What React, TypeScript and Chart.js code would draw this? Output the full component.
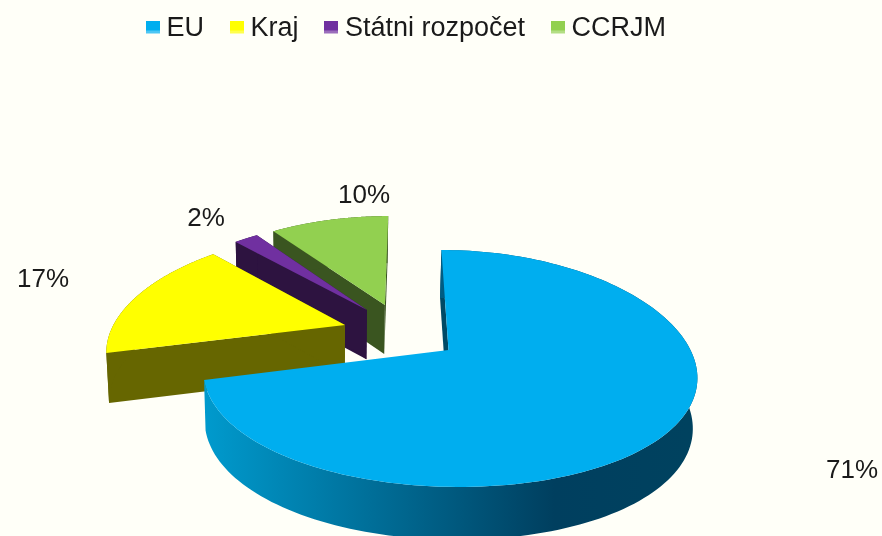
import React, { useEffect, useRef } from "react";
import { Chart, registerables } from "chart.js";

Chart.register(...registerables);

const categories = ["EU", "Kraj", "Státni rozpočet", "CCRJM"];
const shares = [71, 17, 2, 10];

const topColors = ["#00AEEF", "#FFFF00", "#7030A0", "#92D050"];
const sideColors = ["#005A7C", "#666600", "#2D1340", "#3A5520"];
const explode = [
  [0, 0],
  [-0.439, 0.223],
  [-0.349, 0.366],
  [-0.27, 0.414],
];
const labelAnchors = [
  [852, 471],
  [43, 280],
  [206, 219],
  [364, 196],
];
const PAPER = "#FFFFF8";
const INK = "#1A1A1A";
const PERSPECTIVE_X = 0.2;
const PERSPECTIVE_Y = 0.156;
const SKEW = -0.035;
const TOP_PLANE = { cx: 448.5, cy: 350, R: 242, Ry: 115.6 };
const BOTTOM_PLANE = { cx: 447, cy: 400, R: 239, Ry: 118 };

type Plane = typeof TOP_PLANE;

function project(u: number, v: number, plane: Plane): [number, number] {
  return [
    plane.cx + (plane.R * (u + SKEW * v)) / (1 + PERSPECTIVE_X * v),
    plane.cy - (plane.Ry * v) / (1 + PERSPECTIVE_Y * v),
  ];
}

function tracePoly(ctx: CanvasRenderingContext2D, pts: [number, number][]) {
  ctx.beginPath();
  pts.forEach((p, i) => (i ? ctx.lineTo(p[0], p[1]) : ctx.moveTo(p[0], p[1])));
  ctx.closePath();
}

const paperPlugin = {
  id: "paper",
  beforeDraw(chart: any) {
    const { ctx, width, height } = chart;
    ctx.save();
    ctx.fillStyle = PAPER;
    ctx.fillRect(0, 0, width, height);
    ctx.restore();
  },
};

const pie3dPlugin = {
  id: "pie3d",
  beforeDatasetDraw() {
    return false;
  },
  afterDatasetsDraw(chart: any) {
    const ctx: CanvasRenderingContext2D = chart.ctx;
    const arcs = chart.getDatasetMeta(0).data;
    const blueGrad = ctx.createLinearGradient(205, 0, 690, 0);
    blueGrad.addColorStop(0, "#009ACD");
    blueGrad.addColorStop(0.72, "#003F5F");
    blueGrad.addColorStop(1, "#00425F");

    ctx.save();
    // painter's order: far slices first, nearest (first) slice last
    for (let i = arcs.length - 1; i >= 0; i--) {
      const { startAngle, endAngle } = arcs[i].getProps(["startAngle", "endAngle"], true);
      const [ou, ov] = explode[i];
      const unit: [number, number][] = [[ou, ov]];
      const steps = 160;
      for (let s = 0; s <= steps; s++) {
        const a = startAngle + ((endAngle - startAngle) * s) / steps;
        unit.push([ou + Math.cos(a), ov - Math.sin(a)]);
      }
      const top = unit.map(([u, v]) => project(u, v, TOP_PLANE));
      const bottom = unit.map(([u, v]) => project(u, v, BOTTOM_PLANE));
      const last = top.length - 1;

      // radial wall at the slice's start
      ctx.fillStyle = i === 0 ? "#004A66" : sideColors[i];
      tracePoly(ctx, [top[0], top[1], bottom[1], bottom[0]]);
      ctx.fill();
      if (i !== 0) {
        // radial wall at the slice's end (hidden behind the top for the big slice)
        tracePoly(ctx, [top[0], top[last], bottom[last], bottom[0]]);
        ctx.fill();
      }
      // rim wall
      ctx.fillStyle = i === 0 ? blueGrad : sideColors[i];
      tracePoly(ctx, [...top.slice(1), ...bottom.slice(1).reverse()]);
      ctx.fill();

      ctx.fillStyle = topColors[i];
      tracePoly(ctx, top);
      ctx.fill();
    }
    ctx.fillStyle = INK;
    ctx.font = '26px "Liberation Sans", Arial, sans-serif';
    ctx.textAlign = "center";
    ctx.textBaseline = "middle";
    shares.forEach((value, i) => {
      ctx.fillText(value + "%", labelAnchors[i][0], labelAnchors[i][1]);
    });
    ctx.restore();
  },
};

function swatch(color: string) {
  const c = document.createElement("canvas");
  c.width = 14;
  c.height = 16;
  const g = c.getContext("2d")!;
  g.fillStyle = color;
  g.fillRect(0, 0, 14, 13);
  g.fillStyle = "rgba(255,255,255,0.3)";
  g.fillRect(0, 10, 14, 3);
  return c;
}

export default function App() {
  const ref = useRef<HTMLCanvasElement>(null);
  useEffect(() => {
    document.body.style.margin = "0";
    document.body.style.background = PAPER;
    const chart = new Chart(ref.current!, {
      type: "pie",
      data: {
        labels: categories,
        datasets: [{ data: shares, backgroundColor: topColors, borderWidth: 0 }],
      },
      options: {
        responsive: false,
        animation: false,
        rotation: 0,
        layout: { padding: { top: -18, right: 63 } },
        plugins: {
          tooltip: { enabled: false },
          legend: {
            position: "top",
            labels: {
              color: INK,
              font: { family: '"Liberation Sans", Arial, sans-serif', size: 27 },
              padding: 33,
              usePointStyle: true,
              pointStyleWidth: 0.01,
              boxHeight: 14,
              generateLabels: () =>
                categories.map((text, i) => ({
                  text,
                  fillStyle: topColors[i],
                  strokeStyle: topColors[i],
                  lineWidth: 0,
                  pointStyle: swatch(topColors[i]),
                  hidden: false,
                  index: i,
                  fontColor: INK,
                })),
            },
          },
        },
      },
      plugins: [paperPlugin, pie3dPlugin],
    } as any);
    return () => chart.destroy();
  }, []);
  return <canvas ref={ref} width={882} height={536} style={{ display: "block" }} />;
}
